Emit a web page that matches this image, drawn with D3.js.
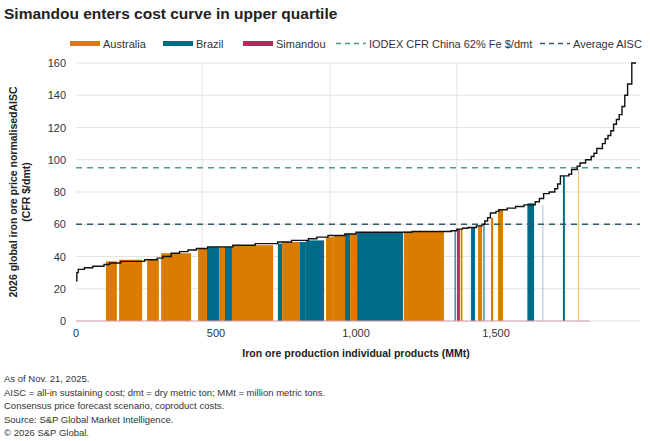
<!DOCTYPE html>
<html><head><meta charset="utf-8">
<script src="https://cdn.jsdelivr.net/npm/d3@7"></script>
<style>body{margin:0;background:#fff;font-family:"Liberation Sans",Arial,sans-serif}</style>
</head><body><svg id="c" width="650" height="441"></svg>
<script>
// cost curve: cumulative volume (MMt) where step starts, cost ($/dmt)
const curveVol  = [0,3,8,30,60,100,120,160,245,290,310,340,370,400,430,470,560,640,720,770,830,860,900,960,1000,1200,1340,1360,1380,1400,1430,1450,1460,1470,1480,1500,1510,1540,1570,1600,1640,1655,1670,1690,1710,1720,1730,1760,1770,1790,1800,1820,1840,1850,1860,1880,1890,1900,1910,1920,1930,1940,1950,1960,1970,1985,2000];
const curveCost = [25,30,32,33,34,35,36,37,38,39,40,42,43,44,45,46,47,48,49,50,51,52,53,54,55,55.5,56,57,57.5,58,59,60,62,64,67,68,69,70,71,72,74,76,79,80,82,85,90,91,94,96,98,100,102,104,107,110,113,115,118,122,125,128,133,140,147,160,160];
// bars: start, end (MMt), cost, country
const barStart = [107,154,254,304,436,468,511,532,557,721,736,800,821,893,921,961,979,1004,1171,1352,1361,1374,1411,1436,1455,1482,1507,1612,1666,1739,1793];
const barEnd   = [146,236,296,411,468,511,532,557,704,736,800,821,886,921,961,979,1004,1168,1314,1356,1371,1380,1425,1450,1459,1490,1525,1636,1669,1746,1796];
const barCost  = [37,38,38,42,45,46,46,46,47,48,49,49,50,52,53,54,54,55,55.5,56,57,57,58,59,60,64,69,73,72,90,94];
const barCountry = ["Australia","Australia","Australia","Australia","Australia","Brazil","Australia","Brazil","Australia","Brazil","Australia","Brazil","Brazil","Australia","Australia","Brazil","Australia","Brazil","Australia","Brazil","Simandou","Australia","Brazil","Australia","Brazil","Australia","Australia","Brazil","BrazilLight","Brazil","AustraliaLight"];
const xTicks = [0,500,1000,1500];
const yTicks = [0,20,40,60,80,100,120,140,160];
const iodex = 95, avgAisc = 60;
const colors = {Australia:"#db7b00",Brazil:"#006b86",Simandou:"#c0245c",BrazilLight:"#8fb9c9",AustraliaLight:"#f0b060"};

const svg = d3.select("#c");
const x = d3.scaleLinear().domain([0,2000]).range([76,636]);
const y = d3.scaleLinear().domain([0,160]).range([321,63]);

svg.append("text").attr("x",4).attr("y",19).attr("font-size",15.5).attr("font-weight","bold").attr("fill","#222")
  .text("Simandou enters cost curve in upper quartile");

// grid
svg.append("g").selectAll("line").data(yTicks).join("line")
  .attr("x1",76).attr("x2",640).attr("y1",d=>y(d)).attr("y2",d=>y(d)).attr("stroke","#e3e3e3");
svg.append("g").selectAll("line").data([450,907,1360]).join("line")
  .attr("x1",d=>x(d)).attr("x2",d=>x(d)).attr("y1",63).attr("y2",321).attr("stroke","#e3e3e3");

// bars
svg.append("g").selectAll("rect").data(barStart.map((s,i)=>i)).join("rect")
  .attr("x",i=>x(barStart[i])).attr("width",i=>Math.max(0.8,x(barEnd[i])-x(barStart[i])))
  .attr("y",i=>y(barCost[i])).attr("height",i=>y(0)-y(barCost[i]))
  .attr("fill",i=>colors[barCountry[i]]);

// faint simandou baseline
svg.append("line").attr("x1",x(0)).attr("x2",x(1835)).attr("y1",y(0)).attr("y2",y(0)).attr("stroke","#d9a0b0").attr("stroke-width",1);

// dashed lines
svg.append("line").attr("x1",76).attr("x2",640).attr("y1",y(iodex)).attr("y2",y(iodex)).attr("stroke","#4b9d86").attr("stroke-width",1.6).attr("stroke-dasharray","6,5");
svg.append("line").attr("x1",76).attr("x2",640).attr("y1",y(avgAisc)).attr("y2",y(avgAisc)).attr("stroke","#2e5b6d").attr("stroke-width",1.6).attr("stroke-dasharray","6,5");

// curve
const line = d3.line().x(d=>x(d[0])).y(d=>y(d[1])).curve(d3.curveStepAfter);
svg.append("path").datum(curveVol.map((v,i)=>[v,curveCost[i]])).attr("d",line)
  .attr("fill","none").attr("stroke","#111").attr("stroke-width",1.4);

// axes labels
svg.append("g").selectAll("text").data(yTicks).join("text")
  .attr("x",66).attr("y",d=>y(d)+4).attr("text-anchor","end").attr("font-size",11).attr("fill","#333").text(d=>d);
svg.append("g").selectAll("text").data(xTicks).join("text")
  .attr("x",d=>x(d)).attr("y",337).attr("text-anchor","middle").attr("font-size",11).attr("fill","#333").text(d=>d3.format(",")(d));

svg.append("text").attr("transform","translate(17,192) rotate(-90)").attr("text-anchor","middle")
  .attr("font-size",10.5).attr("font-weight","bold").attr("fill","#222").text("2026 global iron ore price normalisedAISC");
svg.append("text").attr("transform","translate(30,192) rotate(-90)").attr("text-anchor","middle")
  .attr("font-size",10.5).attr("font-weight","bold").attr("fill","#222").text("(CFR $/dmt)");
svg.append("text").attr("x",356).attr("y",357).attr("text-anchor","middle").attr("font-size",10.5).attr("font-weight","bold").attr("fill","#222")
  .text("Iron ore production individual products (MMt)");

// legend
const lg = svg.append("g").attr("font-size",11).attr("fill","#333");
[["Australia",70],["Brazil",163],["Simandou",243]].forEach(([n,lx])=>{
  lg.append("rect").attr("x",lx).attr("y",41).attr("width",30).attr("height",5).attr("fill",colors[n]);
  lg.append("text").attr("x",lx+33).attr("y",47.5).text(n);
});
[["IODEX CFR China 62% Fe $/dmt",336,"#4b9d86"],["Average AISC",540,"#2e5b6d"]].forEach(([n,lx,c])=>{
  lg.append("line").attr("x1",lx).attr("x2",lx+30).attr("y1",43.5).attr("y2",43.5).attr("stroke",c).attr("stroke-width",1.6).attr("stroke-dasharray","5,4");
  lg.append("text").attr("x",lx+33).attr("y",47.5).text(n);
});

// footnotes
const notes = ["As of Nov. 21, 2025.","AISC = all-in sustaining cost; dmt = dry metric ton; MMt = million metric tons.","Consensus price forecast scenario, coproduct costs.","Source: S&P Global Market Intelligence.","© 2026 S&P Global."];
svg.append("g").selectAll("text").data(notes).join("text")
  .attr("x",4).attr("y",(d,i)=>382+i*13.5).attr("font-size",9.5).attr("fill","#333").text(d=>d);
</script></body></html>
